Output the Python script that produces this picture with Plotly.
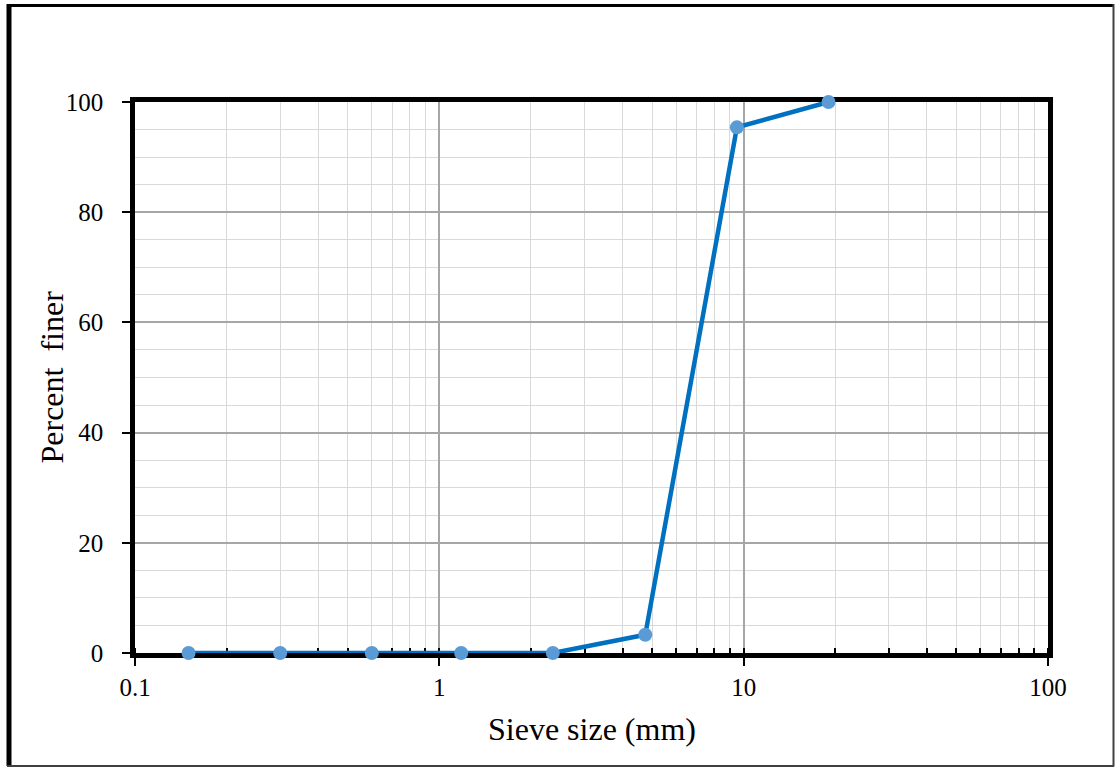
import plotly.graph_objects as go

sieve_mm = [0.15, 0.3, 0.6, 1.18, 2.36, 4.75, 9.5, 19.0]
percent_finer = [0, 0, 0, 0, 0, 3.3, 95.4, 100]
x_tick_vals = [0.1, 1, 10, 100]
x_tick_text = ["0.1", "1", "10", "100"]
y_tick_vals = [0, 20, 40, 60, 80, 100]

W, H = 1115, 767
ML, MR, MT, MB = 135, 67, 102, 114
PW, PH = W - ML - MR, H - MT - MB

def px(x):
    return (x - ML) / PW

def py(y):
    return (H - MB - y) / PH

FONT = "Liberation Serif"

fig = go.Figure()
fig.add_trace(go.Scatter(
    x=sieve_mm, y=percent_finer, mode="lines+markers",
    line=dict(color="#0070C0", width=4.5),
    marker=dict(color="#5B9BD5", size=14),
    cliponaxis=False, showlegend=False,
))

fig.update_layout(
    width=W, height=H,
    margin=dict(l=ML, r=MR, t=MT, b=MB),
    paper_bgcolor="white", plot_bgcolor="white",
    font=dict(family=FONT, color="black", size=25),
)
fig.update_xaxes(
    type="log", range=[-1, 2],
    tickmode="array", tickvals=x_tick_vals, ticktext=x_tick_text,
    ticks="outside", ticklen=8, tickwidth=2, tickcolor="black",
    showline=True, linecolor="black", linewidth=4.5, mirror=True,
    showgrid=True, gridcolor="#A6A6A6", gridwidth=2,
    minor=dict(dtick="D1", ticks="inside", ticklen=5, tickwidth=2, tickcolor="black",
               showgrid=True, gridcolor="#D9D9D9", gridwidth=1),
    tickfont=dict(family=FONT, size=25, color="black"),
    zeroline=False, layer="below traces",
)
fig.update_yaxes(
    range=[0, 100], tickvals=y_tick_vals,
    ticks="outside", ticklen=8, tickwidth=2, tickcolor="black",
    showline=True, linecolor="black", linewidth=4.5, mirror=True,
    showgrid=True, gridcolor="#A6A6A6", gridwidth=2,
    minor=dict(dtick=5, ticks="", showgrid=True, gridcolor="#D9D9D9", gridwidth=1),
    tickfont=dict(family=FONT, size=25, color="black"),
    ticklabelstandoff=14,
    zeroline=False, layer="below traces",
)

fig.add_annotation(text="Sieve size (mm)", xref="paper", yref="paper",
                   x=0.5, y=py(729), xanchor="center", yanchor="middle",
                   showarrow=False, font=dict(family=FONT, size=32, color="black"))
fig.add_annotation(text="Percent  finer", xref="paper", yref="paper",
                   x=px(51), y=0.5, xanchor="center", yanchor="middle", textangle=-90,
                   showarrow=False, font=dict(family=FONT, size=32, color="black"))

# outer chart border
fig.add_shape(type="line", xref="paper", yref="paper", x0=px(9), x1=px(9), y0=py(4), y1=py(766),
              line=dict(color="black", width=5))
fig.add_shape(type="line", xref="paper", yref="paper", x0=px(7), x1=px(1114), y0=py(5.5), y1=py(5.5),
              line=dict(color="black", width=3))
fig.add_shape(type="line", xref="paper", yref="paper", x0=px(1113.5), x1=px(1113.5), y0=py(4), y1=py(766.5),
              line=dict(color="#404040", width=2))
fig.add_shape(type="line", xref="paper", yref="paper", x0=px(7), x1=px(1114), y0=py(766), y1=py(766),
              line=dict(color="#404040", width=2))

fig.write_html("out.html")
